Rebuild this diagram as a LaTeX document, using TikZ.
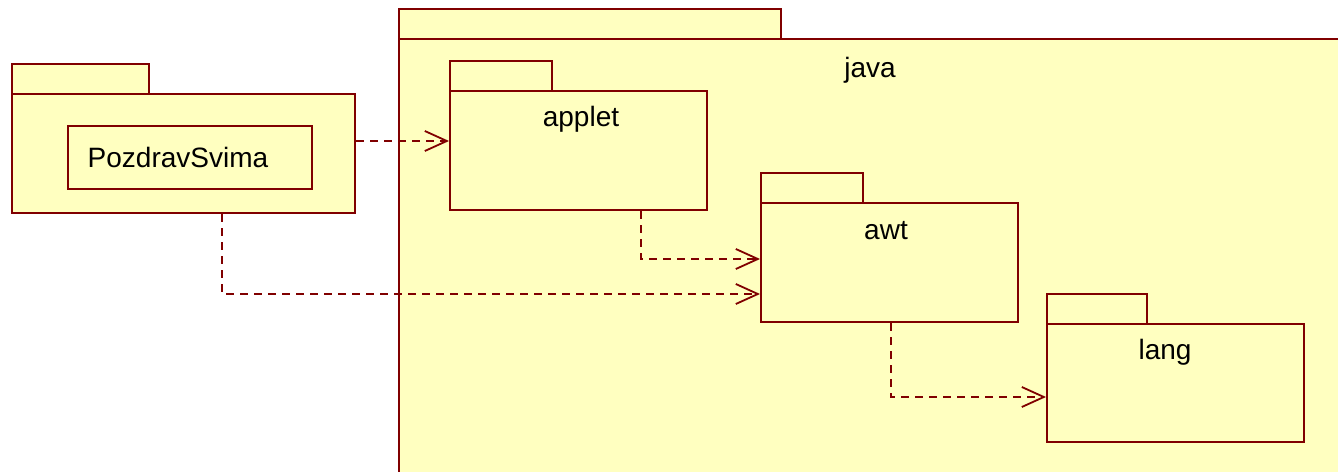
\documentclass[tikz,border=0pt]{standalone}
\usepackage{fontspec}
\setmainfont{Liberation Sans}
\usetikzlibrary{arrows.meta,calc}
\definecolor{pkgfill}{RGB}{255,255,192}
\definecolor{pkgline}{RGB}{128,0,0}
\begin{document}
\begin{tikzpicture}[x=1pt,y=-1pt,
  pkg/.style={draw=pkgline,fill=pkgfill,line width=2pt,inner sep=0pt,anchor=north west,rectangle},
  lbl/.style={font=\fontsize{28}{32}\selectfont,text=black,inner sep=0pt},
  dep/.style={draw=pkgline,line width=1.6pt,dash pattern=on 8pt off 6pt,-{Straight Barb[length=22pt,width=20pt,line width=1.8pt]}}]
\useasboundingbox (0,0) rectangle (1338,471);
\begin{scope}
\clip (0,0) rectangle (1338,471);
% java package
\node[pkg,minimum width=382,minimum height=30] (javatab) at (398,8) {};
\node[pkg,minimum width=960,minimum height=450] (java) at (398,38) {};
\end{scope}
\node[lbl] (javalbl) at (870,70) {java};
% left package
\node[pkg,minimum width=137,minimum height=30] (lefttab) at (11,63) {};
\node[pkg,minimum width=343,minimum height=119] (left) at (11,93) {};
\node[pkg,minimum width=244,minimum height=63] (cls) at (67,125) {};
\node[lbl] (clslbl) at (178,157) {PozdravSvima};
% applet
\node[pkg,minimum width=102,minimum height=30] (applettab) at (449,60) {};
\node[pkg,minimum width=257,minimum height=119] (applet) at (449,90) {};
\node[lbl] (appletlbl) at (581,119) {applet};
% awt
\node[pkg,minimum width=102,minimum height=30] (awttab) at (760,172) {};
\node[pkg,minimum width=257,minimum height=119] (awt) at (760,202) {};
\node[lbl] (awtlbl) at (886,231) {awt};
% lang
\node[pkg,minimum width=100,minimum height=30] (langtab) at (1046,293) {};
\node[pkg,minimum width=257,minimum height=118] (lang) at (1046,323) {};
\node[lbl] (langlbl) at (1165,352) {lang};
% dependencies
\draw[dep] ([yshift=12.5pt]left.east) -- ([yshift=12.5pt]left.east -| applet.west);
\draw[dep] ([xshift=62.5pt]applet.south) |- ([yshift=3.5pt]awt.west);
\draw[dep] ([xshift=38.5pt]left.south) |- ([yshift=-31.5pt]awt.west);
\draw[dep] ([xshift=1.5pt]awt.south) |- ([yshift=-14pt]lang.west);
\end{tikzpicture}
\end{document}
